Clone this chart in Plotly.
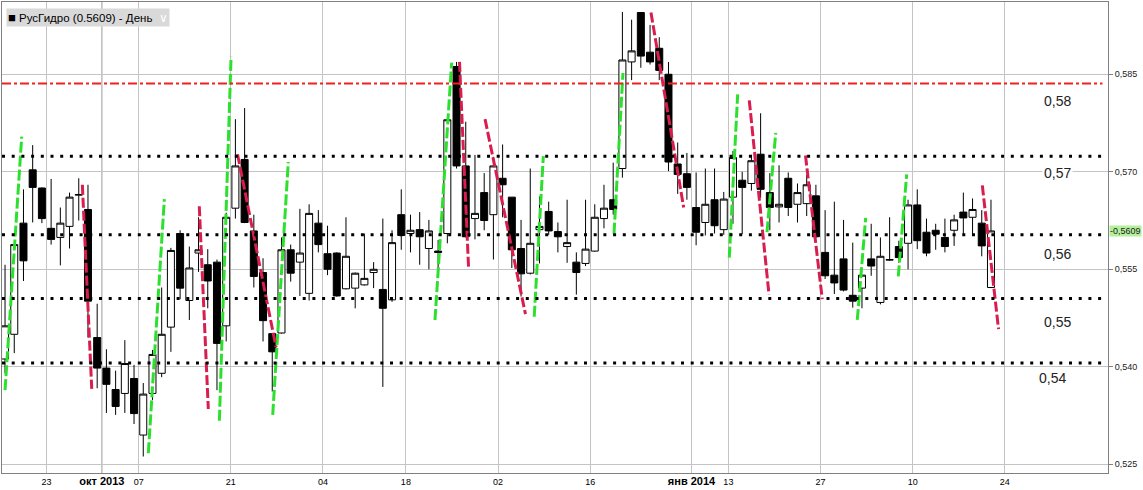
import plotly.graph_objects as go

# ---- data (bar index, OHLC) ----
opens = [0.5412,0.5450,0.5621,0.5703,0.5675,0.5613,0.5599,0.5616,0.5664,0.5642,
         0.5445,0.5398,0.5365,0.5359,0.5382,0.5295,0.5359,0.5390,0.5461,0.5605,
         0.5502,0.5575,0.5557,0.5561,0.5463,0.5644,0.5719,0.5609,0.5545,0.5451,
         0.5452,0.5580,0.5561,0.5513,0.5621,0.5574,0.5575,0.5520,0.5521,0.5526,
         0.5545,0.5519,0.5503,0.5634,0.5605,0.5611,0.5582,0.5578,0.5605,0.5862,
         0.5709,0.5628,0.5668,0.5634,0.5690,0.5661,0.5582,0.5544,0.5611,0.5639,
         0.5608,0.5585,0.5561,0.5559,0.5578,0.5628,0.5657,0.5705,0.5869,0.5945,
         0.5884,0.5890,0.5850,0.5712,0.5697,0.5645,0.5622,0.5657,0.5611,0.5661,
         0.5687,0.5682,0.5727,0.5668,0.5646,0.5690,0.5650,0.5651,0.5663,0.5576,
         0.5541,0.5566,0.5510,0.5521,0.5566,0.5499,0.5564,0.5585,0.5590,0.5649,
         0.5607,0.5610,0.5599,0.5610,0.5638,0.5630,0.5621,0.5522]
highs = [0.5557,0.5589,0.5673,0.5741,0.5676,0.5689,0.5645,0.5668,0.5690,0.5680,
         0.5497,0.5427,0.5394,0.5441,0.5403,0.5375,0.5426,0.5522,0.5583,0.5610,
         0.5585,0.5630,0.5581,0.5565,0.5637,0.5781,0.5798,0.5634,0.5567,0.5452,
         0.5599,0.5588,0.5643,0.5650,0.5641,0.5617,0.5576,0.5630,0.5545,0.5605,
         0.5561,0.5628,0.5610,0.5673,0.5634,0.5638,0.5626,0.5595,0.5781,0.5869,
         0.5777,0.5726,0.5698,0.5723,0.5742,0.5661,0.5626,0.5705,0.5662,0.5654,
         0.5622,0.5657,0.5576,0.5657,0.5650,0.5680,0.5714,0.5946,0.5934,0.5945,
         0.5926,0.5907,0.5869,0.5745,0.5729,0.5699,0.5705,0.5705,0.5669,0.5732,
         0.5700,0.5726,0.5790,0.5698,0.5710,0.5699,0.5682,0.5695,0.5680,0.5641,
         0.5654,0.5626,0.5591,0.5541,0.5620,0.5599,0.5630,0.5594,0.5657,0.5673,
         0.5628,0.5620,0.5628,0.5634,0.5668,0.5659,0.5641,0.5657]
lows = [0.5390,0.5421,0.5532,0.5622,0.5621,0.5588,0.5556,0.5582,0.5625,0.5445,
        0.5367,0.5329,0.5326,0.5329,0.5312,0.5262,0.5349,0.5384,0.5423,0.5504,
        0.5472,0.5546,0.5490,0.5364,0.5439,0.5628,0.5621,0.5522,0.5439,0.5362,
        0.5451,0.5531,0.5509,0.5502,0.5576,0.5541,0.5508,0.5519,0.5490,0.5525,
        0.5521,0.5369,0.5500,0.5580,0.5576,0.5557,0.5550,0.5549,0.5590,0.5705,
        0.5599,0.5596,0.5610,0.5565,0.5630,0.5552,0.5508,0.5542,0.5559,0.5603,
        0.5576,0.5560,0.5511,0.5555,0.5577,0.5613,0.5634,0.5691,0.5841,0.5860,
        0.5865,0.5841,0.5701,0.5666,0.5657,0.5587,0.5602,0.5605,0.5603,0.5620,
        0.5604,0.5671,0.5660,0.5610,0.5622,0.5632,0.5622,0.5632,0.5598,0.5535,
        0.5512,0.5516,0.5491,0.5490,0.5540,0.5496,0.5563,0.5560,0.5550,0.5581,
        0.5570,0.5580,0.5576,0.5586,0.5604,0.5604,0.5570,0.5521]
closes = [0.5463,0.5588,0.5563,0.5676,0.5628,0.5596,0.5621,0.5661,0.5665,0.5501,
          0.5398,0.5373,0.5339,0.5405,0.5328,0.5358,0.5419,0.5450,0.5579,0.5521,
          0.5552,0.5580,0.5532,0.5436,0.5630,0.5709,0.5622,0.5539,0.5471,0.5423,
          0.5580,0.5544,0.5575,0.5636,0.5588,0.5550,0.5509,0.5570,0.5544,0.5536,
          0.5550,0.5490,0.5591,0.5602,0.5610,0.5600,0.5609,0.5576,0.5780,0.5709,
          0.5600,0.5636,0.5625,0.5709,0.5680,0.5580,0.5543,0.5590,0.5616,0.5609,
          0.5600,0.5591,0.5545,0.5581,0.5630,0.5644,0.5642,0.5872,0.5886,0.5878,
          0.5869,0.5856,0.5715,0.5696,0.5676,0.5607,0.5650,0.5617,0.5658,0.5722,
          0.5676,0.5717,0.5673,0.5645,0.5650,0.5645,0.5668,0.5680,0.5600,0.5540,
          0.5529,0.5518,0.5501,0.5541,0.5555,0.5570,0.5565,0.5568,0.5649,0.5594,
          0.5575,0.5604,0.5585,0.5626,0.5629,0.5642,0.5586,0.5609]
bars = list(range(len(closes)))

# trend segments: (start bar, start price, end bar, end price)
up_lines = [(0.0,0.5364,1.81,0.5754),(15.55,0.5267,17.29,0.5658),(23.26,0.5317,24.53,0.5877),
            (29.05,0.5326,30.74,0.5715),(46.66,0.5472,48.47,0.5868),(57.43,0.5477,58.42,0.5724),
            (66.09,0.5605,67.06,0.5852),(78.60,0.5568,79.51,0.5819),(82.69,0.5607,83.64,0.5760),
            (92.49,0.5472,93.40,0.5629),(96.94,0.5539,97.85,0.5696)]
down_lines = [(8.39,0.5680,9.41,0.5366),(21.08,0.5647,22.06,0.5335),(25.23,0.5727,29.41,0.5430),
              (49.32,0.5869,50.30,0.5554),(52.09,0.5781,56.48,0.5481),(70.10,0.5945,73.65,0.5645),
              (80.77,0.5810,82.91,0.5511),(86.87,0.5725,88.69,0.5504),(106.06,0.5679,107.82,0.5458)]

dotted_levels = [0.5724, 0.5603, 0.5505, 0.5406]
dashdot_level = 0.5836
level_labels = ["0,58", "0,57", "0,56", "0,55", "0,54"]
level_label_prices = [0.5809, 0.5698, 0.5573, 0.5469, 0.5383]

tick_bars = [4.5, 10.5, 14.5, 24.5, 34.5, 43.5, 53.5, 63.5, 74.5, 78.5, 88.5, 98.5, 108.5]
tick_texts = ["23", '<span style="font-size:11px"><b>окт 2013</b></span>', "07", "21", "04", "18",
              "02", "16", '<span style="font-size:11px"><b>янв 2014</b></span>',
              "13", "27", "10", "24"]
month_bars = [10.5, 74.5]
y_ticks = [0.525, 0.540, 0.555, 0.570, 0.585]
last_price = 0.5609

fig = go.Figure()
fig.add_trace(go.Candlestick(
    x=bars, open=opens, high=highs, low=lows, close=closes,
    increasing=dict(line=dict(color="black", width=1), fillcolor="white"),
    decreasing=dict(line=dict(color="black", width=1), fillcolor="black"),
    whiskerwidth=0, showlegend=False, hoverinfo="skip"))

for (x0, y0, x1, y1) in up_lines:
    fig.add_trace(go.Scatter(x=[x0, x1], y=[y0, y1], mode="lines",
                             line=dict(color="#2ee02e", width=3, dash="11px,3px"),
                             showlegend=False, hoverinfo="skip"))
for (x0, y0, x1, y1) in down_lines:
    fig.add_trace(go.Scatter(x=[x0, x1], y=[y0, y1], mode="lines",
                             line=dict(color="#d81e4e", width=3, dash="10px,3px"),
                             showlegend=False, hoverinfo="skip"))

shapes = []
for mb in month_bars:
    shapes.append(dict(type="line", xref="x", yref="paper", x0=mb, x1=mb, y0=0, y1=1,
                       line=dict(color="#707070", width=1), layer="below"))
for lv in dotted_levels:
    shapes.append(dict(type="line", xref="paper", yref="y", x0=0, x1=0.996, y0=lv, y1=lv,
                       line=dict(color="black", width=3, dash="3px,6.7px")))
shapes.append(dict(type="line", xref="paper", yref="y", x0=0, x1=0.995, y0=dashdot_level, y1=dashdot_level,
                   line=dict(color="#ee2020", width=2, dash="9px,3px,3px,3px")))

annotations = []
for txt, p in zip(level_labels, level_label_prices):
    annotations.append(dict(xref="paper", yref="y", x=0.954 if txt != "0,54" else 0.950, y=p,
                            text=txt, showarrow=False, bgcolor="white",
                            font=dict(family="Liberation Sans, Arial", size=14, color="#222"),
                            xanchor="center", yanchor="middle", borderpad=1))
annotations.append(dict(xref="paper", yref="y", x=1.0, y=last_price, xanchor="left", yanchor="middle",
                        text="-0,5609", showarrow=False, bgcolor="#b4ef9c",
                        font=dict(family="Liberation Sans, Arial", size=9, color="#222"),
                        borderpad=0, xshift=1))
annotations.append(dict(xref="paper", yref="paper", x=0.004, y=0.988, xanchor="left", yanchor="top",
                        text='<span style="font-size:13px">■</span> РусГидро (0.5609) - День  '
                             '<span style="color:white">∨</span>',
                        showarrow=False, bgcolor="#d9d9d9",
                        font=dict(family="Liberation Sans, Arial", size=11.5, color="black"),
                        borderpad=1))

fig.update_layout(
    width=1143, height=490,
    margin=dict(l=2, r=35, t=2, b=17),
    paper_bgcolor="white", plot_bgcolor="white",
    separators=", ",
    boxgap=0.24, boxgroupgap=0,
    shapes=shapes, annotations=annotations,
    showlegend=False,
    xaxis=dict(range=[-0.33, 119.7], tickmode="array", tickvals=tick_bars, ticktext=tick_texts,
               showgrid=True, gridcolor="#c4c4c4", gridwidth=1, rangeslider=dict(visible=False),
               showline=True, linecolor="#808080", mirror=True, ticks="", zeroline=False,
               tickfont=dict(family="Liberation Sans, Arial", size=9, color="black")),
    yaxis=dict(range=[0.52366, 0.59612], side="right", tickmode="array", tickvals=y_ticks,
               tickformat=".3f", showgrid=True, gridcolor="#c4c4c4", gridwidth=1,
               showline=True, linecolor="#808080", mirror=True, ticks="outside", ticklen=4,
               tickcolor="#808080", zeroline=False,
               tickfont=dict(family="Liberation Sans, Arial", size=9, color="#222")),
)

fig.write_html("out.html", config={"displayModeBar": False},
               post_script="document.body.style.margin='0';document.body.style.overflow='hidden';")
